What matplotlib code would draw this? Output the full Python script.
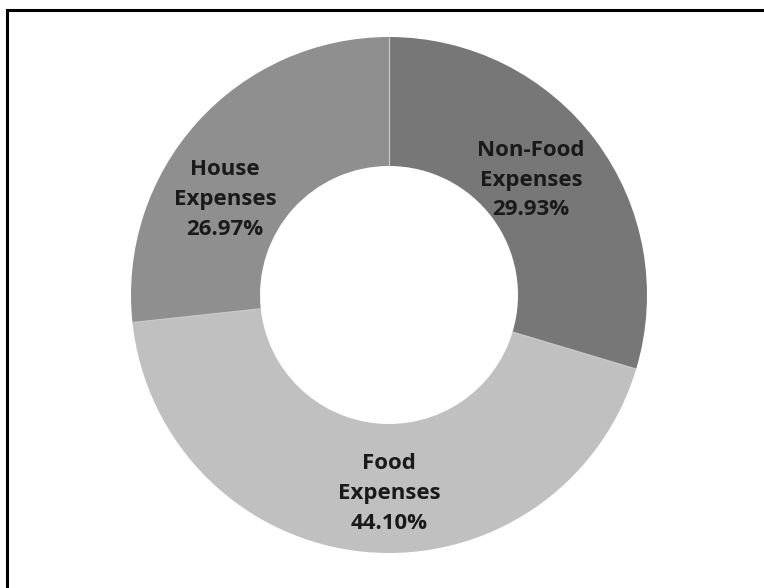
import matplotlib
matplotlib.use("Agg")
import matplotlib.pyplot as plt
import numpy as np
from matplotlib.patches import Rectangle

# expense shares, clockwise from 12 o'clock
categories = ["Non-Food\nExpenses", "Food\nExpenses", "House\nExpenses"]
shares = [29.93, 44.10, 26.97]
colors = ["#777777", "#c0c0c0", "#8f8f8f"]

# where each label sits inside the ring (axes data units)
label_xy = [(0.55, 0.445), (0.0, -0.77), (-0.635, 0.37)]

fig = plt.figure(figsize=(7.64, 5.88), dpi=100)
fig.patch.set_facecolor("white")

# ring centred at (389, 295) px, outer radius 258 px
ax = fig.add_axes([131 / 764, 35 / 588, 516 / 764, 516 / 588])
wedges, _ = ax.pie(
    shares,
    colors=colors,
    startangle=90,
    counterclock=False,
    radius=1.0,
    wedgeprops=dict(width=0.5, linewidth=0),
)

# thin light seams between the slices
for w in wedges:
    t = np.deg2rad(w.theta1)
    ax.plot([0.5 * np.cos(t), np.cos(t)], [0.5 * np.sin(t), np.sin(t)],
            color="#c8c8c8", lw=0.9, solid_capstyle="butt")

ax.set_xlim(-1, 1)
ax.set_ylim(-1, 1)
ax.set_aspect("equal")
ax.axis("off")

for (x, y), name, val in zip(label_xy, categories, shares):
    ax.text(x, y, f"{name}\n{val:.2f}%", ha="center", va="center",
            fontsize=16, fontfamily="Open Sans", fontweight="bold",
            color="#1a1a1a", linespacing=1.55)

# frame around the chart, open on the right and bottom
fig.add_artist(Rectangle((6.5 / 764, -0.05), 1.2, 1 - 9.5 / 588 + 0.05,
                         transform=fig.transFigure, fill=False,
                         edgecolor="black", linewidth=2.2))

fig.savefig("out.png", dpi=100, facecolor="white")
